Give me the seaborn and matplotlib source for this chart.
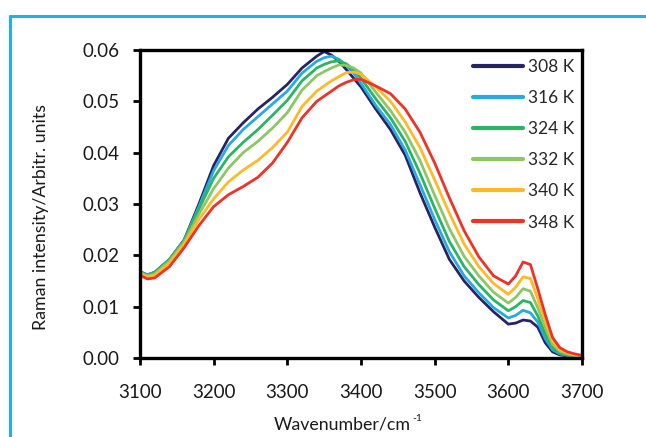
import matplotlib
matplotlib.use("Agg")
import matplotlib.pyplot as plt
from matplotlib.lines import Line2D
import seaborn as sns
import pandas as pd

wavenumber = [3100, 3110, 3120, 3140, 3160, 3180, 3200, 3220, 3240, 3260, 3280, 3300,
              3320, 3340, 3350, 3360, 3370, 3380, 3390, 3400, 3420, 3440, 3460, 3480,
              3500, 3520, 3540, 3560, 3580, 3600, 3610, 3620, 3630, 3640, 3650, 3660,
              3670, 3680, 3690, 3700]

i308 = [.0168, .0162, .0167, .0192, .0230, .0300, .0375, .0428, .0458, .0485, .0508, .0533,
        .0565, .0588, .0597, .0590, .0578, .0562, .0545, .0528, .0485, .0445, .0395, .0322,
        .0255, .0192, .0150, .0118, .0090, .0066, .0068, .0074, .0072, .0060, .0030, .0012,
        .0006, .0004, .0003, .0002]
i316 = [.0168, .0162, .0167, .0192, .0230, .0295, .0365, .0414, .0445, .0470, .0495, .0520,
        .0555, .0578, .0585, .0588, .0582, .0570, .0555, .0535, .0492, .0455, .0405, .0338,
        .0270, .0207, .0160, .0127, .0098, .0078, .0083, .0093, .0088, .0070, .0038, .0016,
        .0008, .0005, .0003, .0002]
i324 = [.0167, .0161, .0166, .0191, .0229, .0290, .0350, .0392, .0420, .0445, .0473, .0502,
        .0540, .0565, .0572, .0577, .0579, .0573, .0562, .0545, .0505, .0468, .0422, .0360,
        .0292, .0227, .0178, .0143, .0113, .0092, .0100, .0112, .0108, .0082, .0048, .0021,
        .0010, .0006, .0004, .0003]
i332 = [.0166, .0160, .0164, .0189, .0226, .0280, .0330, .0370, .0400, .0422, .0448, .0478,
        .0522, .0550, .0558, .0565, .0571, .0570, .0565, .0555, .0518, .0482, .0440, .0385,
        .0317, .0252, .0198, .0160, .0128, .0107, .0118, .0135, .0130, .0098, .0060, .0027,
        .0013, .0008, .0005, .0003]
i340 = [.0164, .0158, .0161, .0185, .0222, .0270, .0310, .0343, .0366, .0385, .0410, .0440,
        .0490, .0520, .0530, .0540, .0548, .0556, .0557, .0553, .0528, .0500, .0460, .0410,
        .0347, .0282, .0222, .0178, .0145, .0124, .0138, .0158, .0155, .0115, .0073, .0033,
        .0016, .0010, .0006, .0004]
i348 = [.0161, .0154, .0156, .0178, .0215, .0258, .0295, .0318, .0334, .0352, .0380, .0420,
        .0468, .0500, .0510, .0520, .0530, .0537, .0542, .0543, .0530, .0515, .0485, .0440,
        .0380, .0312, .0248, .0197, .0160, .0144, .0160, .0187, .0182, .0135, .0085, .0040,
        .0020, .0012, .0008, .0005]

labels = ["308 K", "316 K", "324 K", "332 K", "340 K", "348 K"]
colors = ["#272464", "#27a9e1", "#2bb462", "#8cc763", "#fdb92a", "#ee3228"]
series = [i308, i316, i324, i332, i340, i348]

x_ticks = [3100, 3200, 3300, 3400, 3500, 3600, 3700]
y_ticks = [0.00, 0.01, 0.02, 0.03, 0.04, 0.05, 0.06]

frames = []
for lab, vals in zip(labels, series):
    frames.append(pd.DataFrame({"Wavenumber": wavenumber, "Intensity": vals, "T": lab}))
df = pd.concat(frames, ignore_index=True)

sns.set_style("white")
plt.rcParams["font.family"] = ["Lato", "DejaVu Sans"]

FS = 13.5
TXT = "#1a1a1a"

fig = plt.figure(figsize=(6.46, 4.37), dpi=100)
ax = fig.add_axes([140 / 646, 1 - 358 / 437, 442 / 646, 308 / 437])

sns.lineplot(data=df, x="Wavenumber", y="Intensity", hue="T", hue_order=labels,
             palette=colors, linewidth=2.0, ax=ax, legend=False, estimator=None, sort=False)

ax.set_xlim(3100, 3700)
ax.set_ylim(0, 0.06)
ax.set_xticks(x_ticks)
ax.set_yticks(y_ticks)
ax.set_yticklabels([f"{v:.2f}" for v in y_ticks])
for s in ax.spines.values():
    s.set_linewidth(2.4)
    s.set_color("black")
ax.tick_params(axis="both", direction="out", length=5, width=2, labelsize=FS,
               color="black", labelcolor=TXT, bottom=True, left=True)
ax.tick_params(axis="y", pad=10)
ax.tick_params(axis="x", pad=14)
ax.set_xlabel("")
ax.set_ylabel("")

# axis titles placed to match the reference
fig.text(41 / 646, 1 - 217 / 437, "Raman intensity/Arbitr. units", rotation=90,
         ha="center", va="center", fontsize=12.8, color=TXT)
xl = fig.text(274 / 646, 1 - 430 / 437, "Wavenumber/cm", ha="left", va="baseline",
              fontsize=12.8, color=TXT)
fig.canvas.draw()
bb = xl.get_window_extent()
fig.text((bb.x1 + 1) / 646, 1 - 421 / 437, "-1", ha="left", va="baseline",
         fontsize=7.5, color=TXT)

handles = [Line2D([0], [0], color=c, lw=3) for c in colors]
ax.legend(handles, labels, loc="upper left", bbox_to_anchor=((473 - 140) / 442, (358 - 59) / 308),
          frameon=False, fontsize=12.5, handlelength=2.9, handletextpad=0.28,
          labelspacing=0.87, borderpad=0, borderaxespad=0)

# cyan panel frame
fig.add_artist(Line2D([10 / 646, 1.0], [1 - 16 / 437, 1 - 16 / 437], color="#1fb0e6", lw=2.2,
                      transform=fig.transFigure))
fig.add_artist(Line2D([10 / 646, 10 / 646], [0.0, 1 - 16 / 437], color="#1fb0e6", lw=2.2,
                      transform=fig.transFigure))

fig.savefig("out.png", dpi=100)
